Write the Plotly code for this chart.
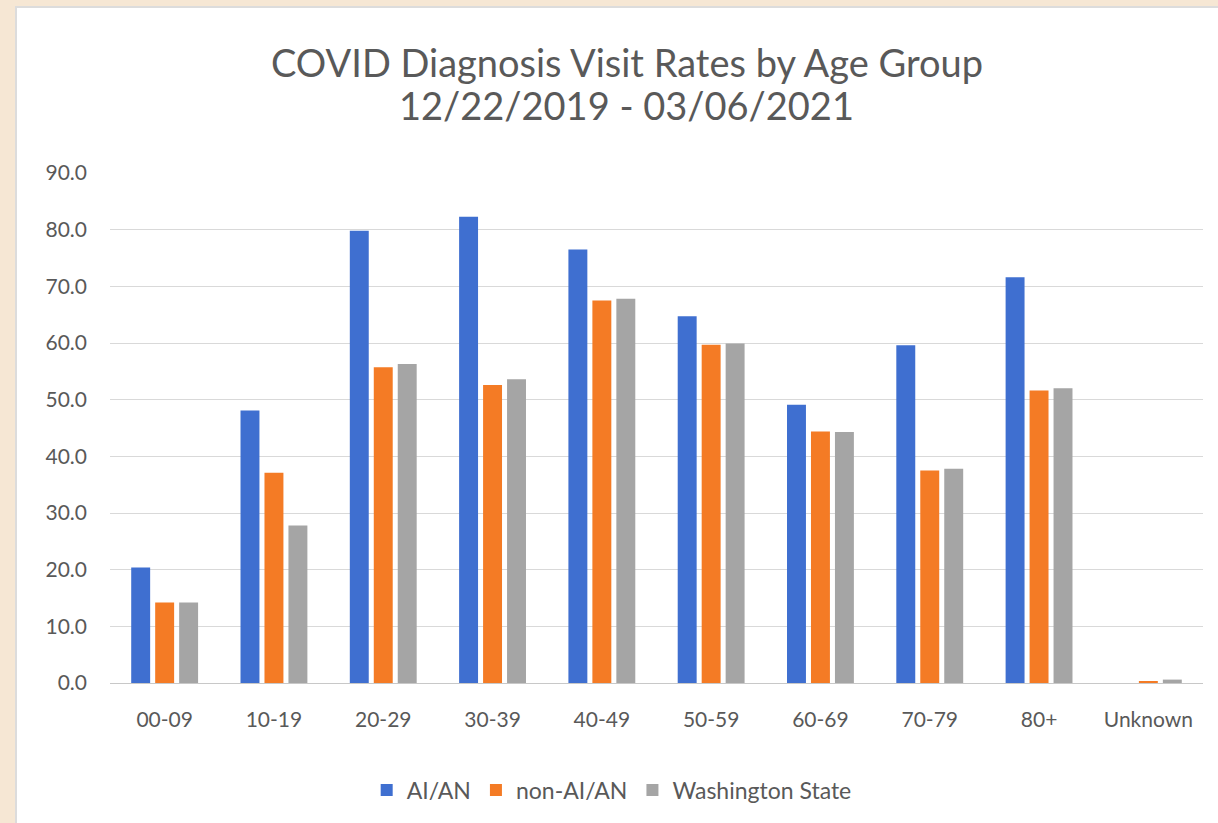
import plotly.graph_objects as go

categories = ["00-09", "10-19", "20-29", "30-39", "40-49", "50-59", "60-69", "70-79", "80+", "Unknown"]
aian = [20.4, 48.1, 79.8, 82.3, 76.5, 64.7, 49.1, 59.6, 71.6, 0.0]
non_aian = [14.2, 37.1, 55.7, 52.6, 67.5, 59.7, 44.4, 37.5, 51.6, 0.3]
washington = [14.2, 27.8, 56.3, 53.6, 67.8, 59.9, 44.3, 37.8, 52.0, 0.6]
series_names = ["AI/AN", "non-AI/AN", "Washington State"]
y_ticks = [0, 10, 20, 30, 40, 50, 60, 70, 80, 90]
title_line1 = "COVID Diagnosis Visit Rates by Age Group"
title_line2 = "12/22/2019 - 03/06/2021"

colors = ["#3F6FD0", "#F47B25", "#A5A5A5"]
FONT = "Lato, 'Open Sans', sans-serif"
TXT = "#595959"
PAGE = "#F6E7D4"

fig = go.Figure()
for name, vals, col in zip(series_names, [aian, non_aian, washington], colors):
    fig.add_trace(go.Bar(x=categories, y=vals, name=name, marker=dict(color=col, line=dict(width=0))))

# white chart card on beige page
fig.add_shape(type="rect", xref="paper", yref="paper",
              x0=-0.086, x1=1.05, y0=-0.30, y1=1.3255,
              fillcolor="white", line=dict(color="#DCDCDC", width=2), layer="below")

fig.add_annotation(text=title_line1, xref="paper", yref="paper", x=0.473, y=1.2175,
                   showarrow=False, xanchor="center", yanchor="middle",
                   font=dict(family=FONT, size=38, color=TXT))
fig.add_annotation(text=title_line2, xref="paper", yref="paper", x=0.473, y=1.133,
                   showarrow=False, xanchor="center", yanchor="middle",
                   font=dict(family=FONT, size=38, color=TXT))

fig.update_layout(
    width=1218, height=823,
    margin=dict(l=110, r=15, t=173, b=140),
    paper_bgcolor=PAGE,
    plot_bgcolor="white",
    barmode="group",
    bargap=0.342,
    bargroupgap=0.21,
    font=dict(family=FONT, color=TXT),
    legend=dict(orientation="h", x=0.459, xanchor="center", y=-0.21, yanchor="middle",
                font=dict(family=FONT, size=23, color=TXT), bgcolor="rgba(0,0,0,0)",
                itemwidth=30, tracegroupgap=0),
    showlegend=True,
)
fig.update_yaxes(range=[0, 90], tickvals=y_ticks, tickformat=".1f",
                 showgrid=True, gridcolor="#D9D9D9", gridwidth=1,
                 zeroline=False, showline=False, ticks="",
                 tickfont=dict(family=FONT, size=21, color=TXT), ticklabelstandoff=22)
fig.update_xaxes(type="category", showgrid=False, showline=True, linecolor="#C8C8C8", linewidth=1,
                 ticks="", tickfont=dict(family=FONT, size=21, color=TXT),
                 ticklabelstandoff=18)

fig.write_html("out.html", config={"displayModeBar": False},
               post_script="document.body.style.margin='0';document.body.style.background='%s';" % PAGE)
